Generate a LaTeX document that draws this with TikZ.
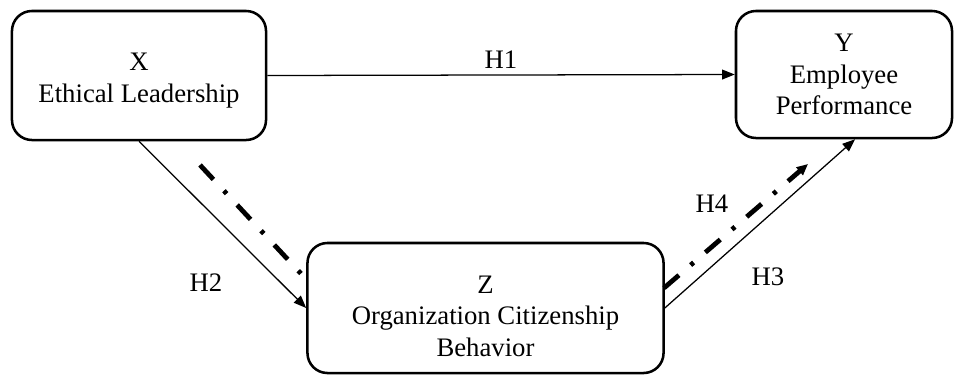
\documentclass[tikz,border=0pt]{standalone}
\usepackage{fontspec}
\setmainfont{Liberation Serif}
\usetikzlibrary{calc,arrows.meta}
\newcommand{\topgap}[1]{\rule{0pt}{#1}}
\tikzset{
    var box/.style={
        draw,line width=1.8pt,rounded corners=0.5cm,
        align=center,inner sep=0pt,
        font=\fontsize{19}{22.5}\selectfont
    },
    >={Triangle[length=9pt,width=7pt]},
    path line/.style={line width=0.9pt,->},
    dashdot line/.style={line width=3.4pt,
        dash pattern=on 14pt off 11pt on 2.8pt off 11pt},
    hyp/.style={font=\fontsize{19}{22}\selectfont},
}
\begin{document}
\begin{tikzpicture}[x=0.025cm,y=-0.025cm]
		\useasboundingbox (0,0) rectangle (964,376);
		\node[var box,minimum width=6.35cm,minimum height=3.225cm] (X) at (139,75.5) {\topgap{20pt}X\\Ethical Leadership};
		\node[var box,minimum width=5.4cm,minimum height=3.175cm] (Y) at (844,74.5) {Y\\Employee\\Performance};
		\node[var box,minimum width=8.9cm,minimum height=3.25cm] (Z) at (485.5,308) {\topgap{24pt}Z\\Organization Citizenship\\Behavior};

		% direct paths
		\draw[path line] (X.east) -- (Y.west) node[hyp,midway,above=1pt] (h1) {H1};
		\draw[path line] (X.south) -- (Z.west);
		\draw[path line] (Z.east) -- ($(Y.south)+(11,0)$);

		% mediated path
		\coordinate (m1) at (200,165);
		\coordinate (m2) at (306,279);
		\coordinate (m3) at (664,288);
		\coordinate (m4) at (808,164);
		\draw[dashdot line] (m1) -- (m2);
		\draw[dashdot line,-{Triangle[length=8pt,width=7pt]}] (m3) -- (m4);

		\node[hyp] (h2) at (206,283) {H2};
		\node[hyp] (h3) at (768,277) {H3};
		\node[hyp] (h4) at (712,204) {H4};
	\end{tikzpicture}
\end{document}
